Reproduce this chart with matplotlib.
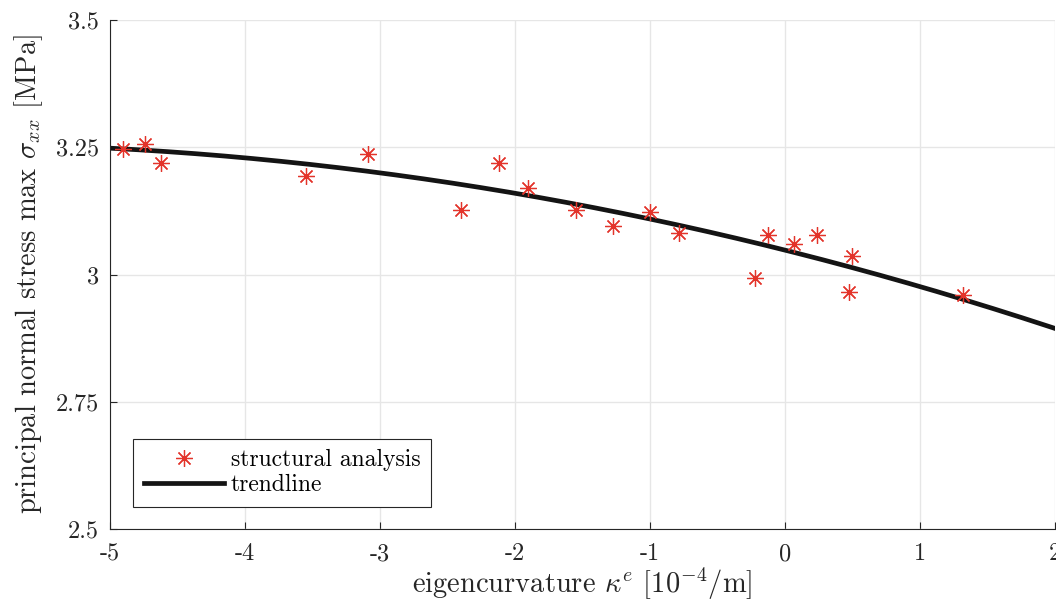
"""
Principal normal stress vs. eigencurvature (structural analysis + trendline)
"""

import numpy as np
import matplotlib
matplotlib.use("Agg")
import matplotlib.pyplot as plt

# structural analysis results
kappa = [-4.901, -4.741, -4.622, -3.550, -3.087, -2.402, -2.116, -1.906,
         -1.550, -1.272, -1.000, -0.785, -0.222, -0.128, 0.069, 0.235,
         0.499, 0.474, 1.316]
sigma = [3.246, 3.256, 3.2185, 3.1935, 3.236, 3.1267, 3.2185, 3.1705,
         3.1267, 3.0953, 3.1222, 3.0821, 2.9925, 3.0776, 3.0599, 3.0776,
         3.037, 2.965, 2.9597]

# quadratic trendline coefficients (highest power first)
trend_coef = [-0.00527, -0.0664, 3.0479]

xticks = [-5, -4, -3, -2, -1, 0, 1, 2]
yticks = [2.5, 2.75, 3.0, 3.25, 3.5]
ytick_labels = ["2.5", "2.75", "3", "3.25", "3.5"]

plt.rcParams["font.family"] = "serif"
plt.rcParams["font.serif"] = ["cmr10", "DejaVu Serif"]
plt.rcParams["mathtext.fontset"] = "cm"
plt.rcParams["axes.unicode_minus"] = False
plt.rcParams["axes.formatter.use_mathtext"] = True

fig = plt.figure(figsize=(10.56, 6.04), dpi=100)
ax = fig.add_axes([110 / 1056, 1 - 529 / 604, 945 / 1056, 509 / 604])

xs = np.linspace(-5, 2, 200)
ax.plot(kappa, sigma, linestyle="none", marker=(8, 2, 0), markersize=12,
        markeredgewidth=0.9, color="#e3342b", label="structural analysis",
        zorder=3)
ax.plot(xs, np.polyval(trend_coef, xs), color="#141414", linewidth=3.4,
        label="trendline", zorder=2)

ax.set_xlim(-5, 2)
ax.set_ylim(2.5, 3.5)
ax.set_xticks(xticks)
ax.set_xticklabels([str(t) for t in xticks])
ax.set_yticks(yticks)
ax.set_yticklabels(ytick_labels)
ax.tick_params(direction="in", length=5, width=0.8, colors="#262626",
               labelsize=17.5, pad=8)
ax.tick_params(axis="x", pad=10)

for side in ("top", "right"):
    ax.spines[side].set_visible(False)
for side in ("left", "bottom"):
    ax.spines[side].set_color("#262626")
    ax.spines[side].set_linewidth(0.8)

ax.grid(True, color="#e6e6e6", linewidth=1)
ax.set_axisbelow(True)

ax.set_xlabel(r"eigencurvature $\kappa^e$ $[10^{-4}/\mathrm{m}]$",
              fontsize=20.5, color="#262626", labelpad=1)
ax.set_ylabel(r"principal normal stress max $\sigma_{xx}$ [MPa]",
              fontsize=20.5, color="#262626", labelpad=8)

leg = ax.legend(loc="lower left", bbox_to_anchor=(23 / 945, 22 / 509),
                borderaxespad=0, fontsize=17, fancybox=False,
                framealpha=1, edgecolor="#262626", handlelength=3.4,
                handletextpad=0.3, borderpad=0.45, labelspacing=0.12)
leg.get_frame().set_linewidth(0.8)

fig.savefig("out.png", dpi=100)
